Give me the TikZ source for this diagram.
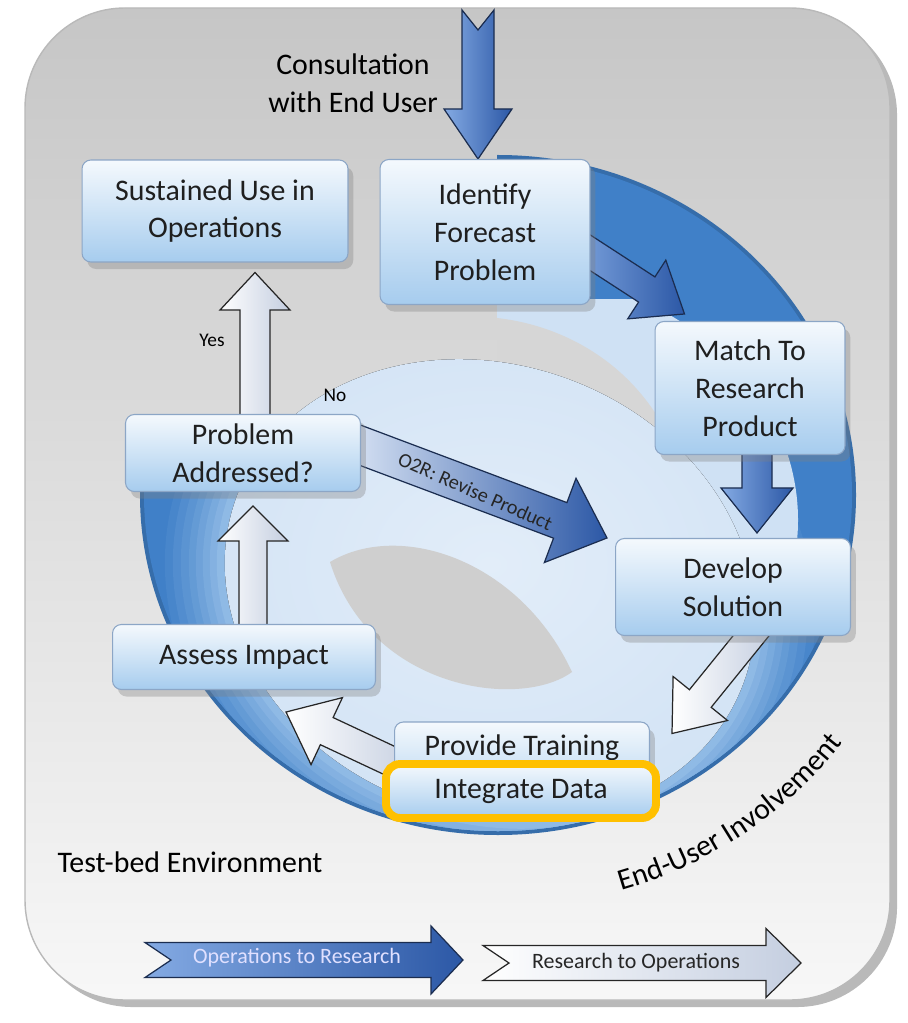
\documentclass[tikz,border=0pt]{standalone}
\usepackage{fontspec}
\setmainfont{Carlito}
\usepackage{xcolor}
\usepackage{tikz}
\usetikzlibrary{calc}
\usetikzlibrary{arrows.meta}
\usetikzlibrary{shadows}
\usetikzlibrary{positioning}
\usetikzlibrary{decorations.text}
\pgfdeclarelayer{back}
\pgfsetlayers{back,main}

\definecolor{panelgray}{HTML}{C6C6C6}
\definecolor{ringblue}{HTML}{4080C8}
\definecolor{ringlight}{HTML}{A8CCEE}
\definecolor{palefill}{HTML}{CFE1F4}
\definecolor{paleedge}{HTML}{B2CEEC}
\definecolor{palecore}{HTML}{E2EDF9}
\definecolor{boxblue}{HTML}{A6CCEE}
\definecolor{boxedge}{HTML}{8CA6C6}
\definecolor{arrowblue}{HTML}{5B8EDA}
\definecolor{arrowdeep}{HTML}{2C58A6}
\definecolor{arrowedge}{HTML}{1B2D50}
\definecolor{mistgray}{HTML}{C4CEE0}
\definecolor{marker}{HTML}{FFC000}
\pgfdeclareradialshading{paleshade}{\pgfpoint{0bp}{0bp}}{color(0bp)=(palecore); color(34bp)=(palefill); color(50bp)=(paleedge); color(70bp)=(paleedge)}

\tikzstyle{plate} = [rectangle, rounded corners = 5pt, draw = boxedge, line width = 0.6pt, top color = boxblue!12, bottom color = boxblue, middle color = boxblue!55, align = center, text = black!88, font = \fontsize{17}{21.5}\selectfont]
\tikzstyle{stage} = [plate, drop shadow = {shadow xshift = 3pt, shadow yshift = -4pt, opacity = 0.35}]
\tikzstyle{blueshaft} = [draw = arrowedge, line width = 0.7pt, left color = arrowblue!75!white, right color = arrowdeep]
\tikzstyle{whiteshaft} = [draw = black!85, line width = 0.7pt, left color = white, right color = mistgray]

\newcommand{\blockarrow}[7][]{%
  \path (#2) coordinate (ba-s) (#3) coordinate (ba-t);
  \path ($(ba-t)!#6!(ba-s)$) coordinate (ba-h) ($(ba-s)!#7!(ba-t)$) coordinate (ba-n);
  \draw [#1] ($(ba-s)!#4!90:(ba-t)$) -- ($(ba-h)!#4!-90:(ba-s)$) -- ($(ba-h)!#5!-90:(ba-s)$) -- (ba-t) -- ($(ba-h)!#5!90:(ba-s)$) -- ($(ba-h)!#4!90:(ba-s)$) -- ($(ba-s)!#4!-90:(ba-t)$) -- (ba-n) -- cycle;
}

\begin{document}
\begin{tikzpicture}[x = 0.02cm, y = 0.02cm]
\useasboundingbox (0, 0) rectangle (907, -1023);
\begin{pgfonlayer}{back}
\fill [white] (0, 0) rectangle (907, -1023);
\draw [rounded corners = 2cm, draw = gray!55, line width = 0.8pt, top color = panelgray, bottom color = white!97!black, drop shadow = {shadow xshift = 4pt, shadow yshift = -4pt, opacity = 0.55}] (25, -8) rectangle (890, -1000);
\begin{scope}
\clip (497, -100) -- (920, -100) -- (920, -950) -- (80, -950) -- (80, -470) -- (300, -470) -- (497, -390) -- cycle;
\fill [ringblue!85!black] (498, -495) ellipse [x radius = 358, y radius = 340];
\clip (498, -495) ellipse [x radius = 354, y radius = 336];
\foreach \rx/\ry/\tint in {520/480/0, 330/285/8, 322/277/17, 314/269/26, 306/261/35, 299/254/45, 292/247/55, 285/240/65, 278/233/76}
  \fill [rotate around = {-20:(490, -590)}, ringlight!\tint!ringblue] (490, -590) ellipse [x radius = \rx, y radius = \ry];
\end{scope}
\begin{scope}
\clip (497, -300) rectangle (900, -900);
\fill [palefill] (498, -520) ellipse [x radius = 300, y radius = 250];
\end{scope}
\fill [panelgray!72!white] (497, -318) .. controls (560, -325) and (630, -360) .. (668, -435) -- (497, -435) -- cycle;
\fill [rotate around = {-20:(490, -590)}, shading = paleshade] (490, -590) ellipse [x radius = 270, y radius = 225];
\fill [panelgray!85!white] (330, -562) .. controls (400, -520) and (520, -560) .. (572, -672) .. controls (520, -710) and (370, -690) .. (330, -562) -- cycle;
\end{pgfonlayer}

\node [stage, minimum width = 4.2cm, minimum height = 2.9cm] (Identify) at (485, -232) {Identify\\Forecast\\Problem};
\node [stage, minimum width = 5.32cm, minimum height = 2.04cm] (Sustained) at (215, -211) {Sustained Use in\\Operations};
\node [stage, minimum width = 3.8cm, minimum height = 2.66cm] (Match) at (750, -388) {Match To\\Research\\Product};
\node [stage, minimum width = 4.7cm, minimum height = 1.94cm] (Develop) at (733, -587) {Develop\\Solution};
\node [stage, minimum width = 4.7cm, minimum height = 1.54cm] (Problem) at (243, -453) {Problem\\Addressed?};
\node [stage, minimum width = 5.26cm, minimum height = 1.3cm] (Assess) at (244, -657) {Assess Impact};
\node [stage, minimum width = 5.1cm, minimum height = 1.8cm] (Train) at (522, -767) {Provide Training\\\phantom{Integrate Data}};
\node [plate, draw = marker, line width = 4.5pt, rounded corners = 8pt, minimum width = 5.4cm, minimum height = 1.08cm] (Integrate) at (521, -791) {Integrate Data};

\coordinate (consult) at (478, -10);
\coordinate (toresearch) at (145, -960);
\coordinate (toresearchtip) at (463, -960);
\coordinate (tooperations) at (483, -963);
\coordinate (tooperationstip) at (801, -963);

\begin{pgfonlayer}{back}
\blockarrow[blueshaft]{consult}{$(Identify.north) + (-7, 0)$}{0.32cm}{0.68cm}{1.0cm}{0.4cm}
\blockarrow[blueshaft]{$(Identify.east) + (-20, -8)$}{$(Match.north west) + (30, 7)$}{0.3cm}{0.7cm}{0.9cm}{0cm}
\blockarrow[blueshaft]{$(Match.south) + (7, 20)$}{$(Develop.north) + (24, 5)$}{0.3cm}{0.72cm}{0.9cm}{0cm}
\blockarrow[blueshaft, left color = arrowblue!18!white]{$(Problem.east) + (-20, 15)$}{$(Develop.north west) + (-8, 0)$}{0.38cm}{0.9cm}{1.0cm}{0cm}
\blockarrow[whiteshaft]{$(Develop.south) + (30, 15)$}{$(Train.north east) + (22, -12)$}{0.28cm}{0.7cm}{0.9cm}{0cm}
\blockarrow[whiteshaft]{$(Train.west) + (20, -5)$}{$(Assess.south east) + (-90, -22)$}{0.3cm}{0.74cm}{0.9cm}{0cm}
\blockarrow[whiteshaft]{$(Assess.north) + (9, -10)$}{$(Problem.south) + (10, -14)$}{0.28cm}{0.7cm}{0.7cm}{0cm}
\blockarrow[whiteshaft]{$(Problem.north) + (12, -10)$}{$(Sustained.south) + (40, -10)$}{0.3cm}{0.7cm}{0.75cm}{0cm}
\blockarrow[blueshaft]{toresearch}{toresearchtip}{0.35cm}{0.68cm}{0.64cm}{0.52cm}
\blockarrow[whiteshaft]{tooperations}{tooperationstip}{0.35cm}{0.69cm}{0.7cm}{0.52cm}
\end{pgfonlayer}

\node [rotate = -23.6, font = \fontsize{11.5}{13}\selectfont, text = black!85] (revise) at ($(Problem.east)!0.45!(Develop.north west)$) {O2R: Revise Product};
\node [font = \fontsize{17}{21.5}\selectfont, align = center] (consultlabel) at (353, -83) {Consultation\\with End User};
\node [font = \fontsize{11}{13}\selectfont] (yes) at (212, -340) {Yes};
\node [font = \fontsize{11}{13}\selectfont] (no) at (335, -395) {No};
\node [font = \fontsize{17}{20}\selectfont] (testbed) at (190, -862) {Test-bed Environment};
\node [font = \fontsize{12.5}{14}\selectfont, text = white!88!blue] (o2rlegend) at (297, -958) {Operations to Research};
\node [font = \fontsize{12.5}{14}\selectfont, text = black!85] (r2olegend) at (636, -963) {Research to Operations};
\path [decorate, decoration = {text along path, text = {|\fontsize{17}{17}\selectfont|End-User Involvement}, text align = center}] ($(498, -495) + (-79:8.62cm and 8.26cm)$) arc [start angle = -79, end angle = -31, x radius = 8.62cm, y radius = 8.26cm];
\end{tikzpicture}
\end{document}
